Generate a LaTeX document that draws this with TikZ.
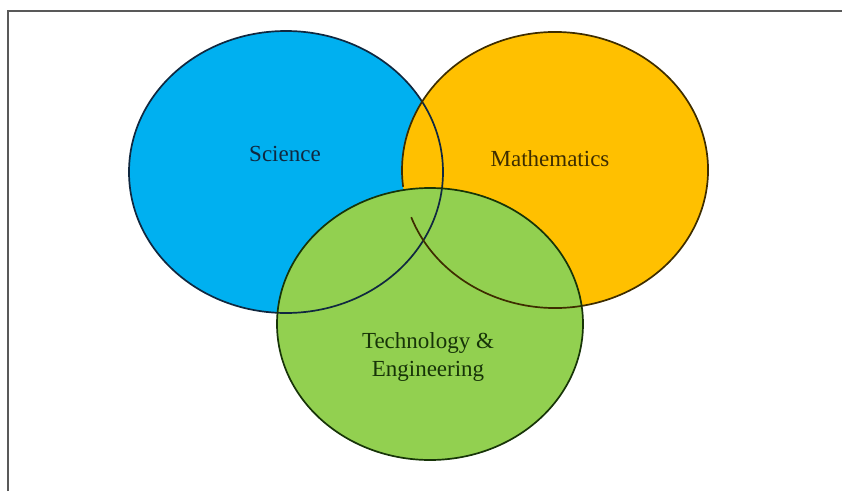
\documentclass[tikz,border=0pt]{standalone}
\usepackage{fontspec}
\setmainfont{Liberation Serif}
\usepackage{tikz}

\definecolor{sciblue}{HTML}{00B0F0}
\definecolor{mathgold}{HTML}{FFC000}
\definecolor{techgreen}{HTML}{92D050}
\definecolor{sciedge}{HTML}{102840}
\definecolor{mathedge}{HTML}{3E2D00}
\definecolor{techedge}{HTML}{173408}

\begin{document}
\begin{tikzpicture}[x=1pt,y=1pt,
    rim/.style={line width=1.7pt},
    setname/.style={font=\fontsize{23}{28}\selectfont, align=center}]
    \useasboundingbox (0,0) rectangle (842,491);
    \draw [line width=1.5pt, black!65] (8,0) -- (8,480) -- (842,480);

    \fill [sciblue] (286,319) ellipse [x radius=157pt, y radius=141pt];
    \fill [mathgold] (555,321) ellipse [x radius=153pt, y radius=138pt];
    \fill [techgreen] (430,167) ellipse [x radius=153pt, y radius=136pt];

    \draw [rim, sciedge] (286,319) ellipse [x radius=157pt, y radius=141pt];
    \draw [rim, mathedge] ([shift={(200:153pt and 138pt)}]555,321)
        arc [start angle=200, end angle=547, x radius=153pt, y radius=138pt];
    \draw [rim, techedge] (430,167) ellipse [x radius=153pt, y radius=136pt];

    \node [setname, text=sciedge] (science) at (285,337) {Science};
    \node [setname, text=mathedge] (maths) at (550,332) {Mathematics};
    \node [setname, text=techedge] (tech) at (428,134) {Technology \&\\Engineering};
\end{tikzpicture}
\end{document}
